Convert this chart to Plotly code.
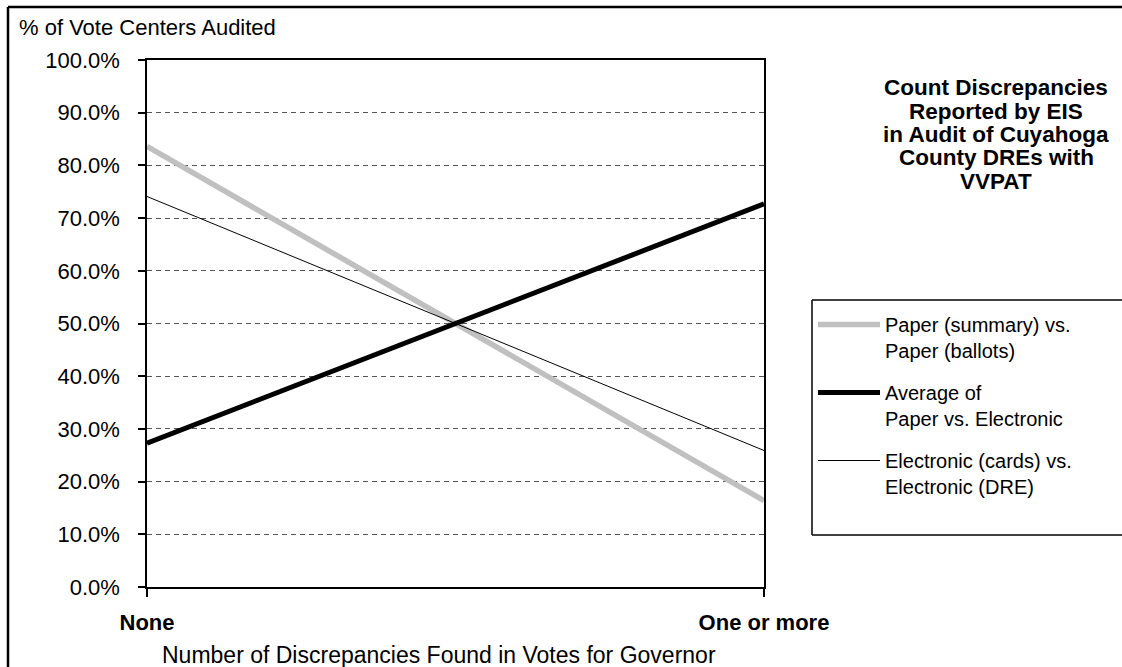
import plotly.graph_objects as go

# ---- data ----
categories = ["None", "One or more"]
paper_summary_vs_ballots = [83.6, 16.4]
average_paper_vs_electronic = [27.3, 72.7]
electronic_cards_vs_dre = [74.1, 25.9]
series_names = [
    "Paper (summary) vs.<br>Paper (ballots)",
    "Average of<br>Paper vs. Electronic",
    "Electronic (cards) vs.<br>Electronic (DRE)",
]
y_tick_values = list(range(0, 101, 10))
y_tick_labels = [f"{v:.1f}%" for v in y_tick_values]
title_lines = ["Count Discrepancies", "Reported by EIS", "in Audit of Cuyahoga",
               "County DREs with", "VVPAT"]
y_axis_title = "% of Vote Centers Audited"
x_axis_title = "Number of Discrepancies Found in Votes for Governor"

# ---- layout geometry (pixels) ----
W, H = 1122, 667
L, R, T, B = 147, 764, 60, 587
FONT = "Liberation Sans, Arial, sans-serif"


def px_x(p):
    return (p - L) / (R - L)


def px_y(p):
    return (B - p) / (B - T)


fig = go.Figure()
styles = [
    dict(color="#c0c0c0", width=5.5),
    dict(color="#000000", width=5),
    dict(color="#000000", width=1),
]
for i, (name, vals) in enumerate(zip(series_names,
                                     [paper_summary_vs_ballots,
                                      average_paper_vs_electronic,
                                      electronic_cards_vs_dre])):
    fig.add_trace(go.Scatter(x=categories, y=vals, mode="lines", name=name,
                             line=styles[i], legendgroup=f"g{i}",
                             hoverinfo="skip"))

fig.update_layout(
    width=W, height=H,
    margin=dict(l=L, r=W - R, t=T, b=H - B, pad=0),
    paper_bgcolor="white", plot_bgcolor="white",
    font=dict(family=FONT, size=22, color="black"),
    showlegend=True,
    legend=dict(
        x=px_x(813), y=px_y(305), xanchor="left", yanchor="top",
        borderwidth=0, bgcolor="rgba(0,0,0,0)",
        font=dict(family=FONT, size=20, color="black"),
        valign="top", itemwidth=62,
        tracegroupgap=13,
    ),
    xaxis=dict(
        type="category", range=[0, 1],
        showline=True, linecolor="black", linewidth=1.5, mirror=True,
        ticks="outside", ticklen=8, tickcolor="black", tickwidth=1.5,
        showgrid=False, zeroline=False,
        tickfont=dict(family=FONT, size=22, color="black", weight="bold"),
        ticklabelstandoff=7,
    ),
    yaxis=dict(
        range=[0, 100], tickmode="array",
        tickvals=y_tick_values, ticktext=y_tick_labels,
        showline=True, linecolor="black", linewidth=1.5, mirror=True,
        ticks="outside", ticklen=7, tickcolor="black", tickwidth=1.5,
        showgrid=True, gridcolor="#555555", gridwidth=1, griddash="5px,4px",
        zeroline=False,
        tickfont=dict(family=FONT, size=22, color="black"),
        ticklabelstandoff=14,
    ),
    yaxis2=dict(
        overlaying="y", anchor="x", side="left",
        range=[0, 100], tickmode="array", tickvals=y_tick_values,
        showticklabels=False, ticks="inside", ticklen=6,
        tickcolor="black", tickwidth=1.5, showline=False,
        showgrid=False, zeroline=False,
    ),
)

annotations = [
    dict(text=y_axis_title, xref="paper", yref="paper",
         x=px_x(17), y=px_y(27), xanchor="left", yanchor="middle",
         showarrow=False, font=dict(family=FONT, size=22, color="black")),
    dict(text=x_axis_title, xref="paper", yref="paper",
         x=px_x(439), y=px_y(655), xanchor="center", yanchor="middle",
         showarrow=False, font=dict(family=FONT, size=23, color="black")),
]
for k, line in enumerate(title_lines):
    annotations.append(dict(
        text=line, xref="paper", yref="paper",
        x=px_x(996), y=px_y(88 + 23.3 * k), xanchor="center", yanchor="middle",
        showarrow=False,
        font=dict(family=FONT, size=22.5, color="black", weight="bold")))
fig.update_layout(annotations=annotations)

# frame lines: the outer chart border and the legend frame both reach the
# right / bottom edges of the picture, as in the reference
EDGE = W + 1
frame = dict(type="line", xref="paper", yref="paper", layer="below")
fig.add_shape(**frame, x0=px_x(8), x1=px_x(8), y0=px_y(7), y1=px_y(H + 2),
              line=dict(color="black", width=2.5))
fig.add_shape(**frame, x0=px_x(8), x1=px_x(EDGE), y0=px_y(7), y1=px_y(7),
              line=dict(color="black", width=2.5))
fig.add_shape(**frame, x0=px_x(812), x1=px_x(812), y0=px_y(300), y1=px_y(535),
              line=dict(color="black", width=1.5))
fig.add_shape(**frame, x0=px_x(812), x1=px_x(EDGE), y0=px_y(300), y1=px_y(300),
              line=dict(color="black", width=1.5))
fig.add_shape(**frame, x0=px_x(812), x1=px_x(EDGE), y0=px_y(535), y1=px_y(535),
              line=dict(color="black", width=1.5))

fig.write_html("out.html", config={"displayModeBar": False},
               post_script="document.body.style.margin='0';"
                           "document.body.style.overflow='hidden';")
